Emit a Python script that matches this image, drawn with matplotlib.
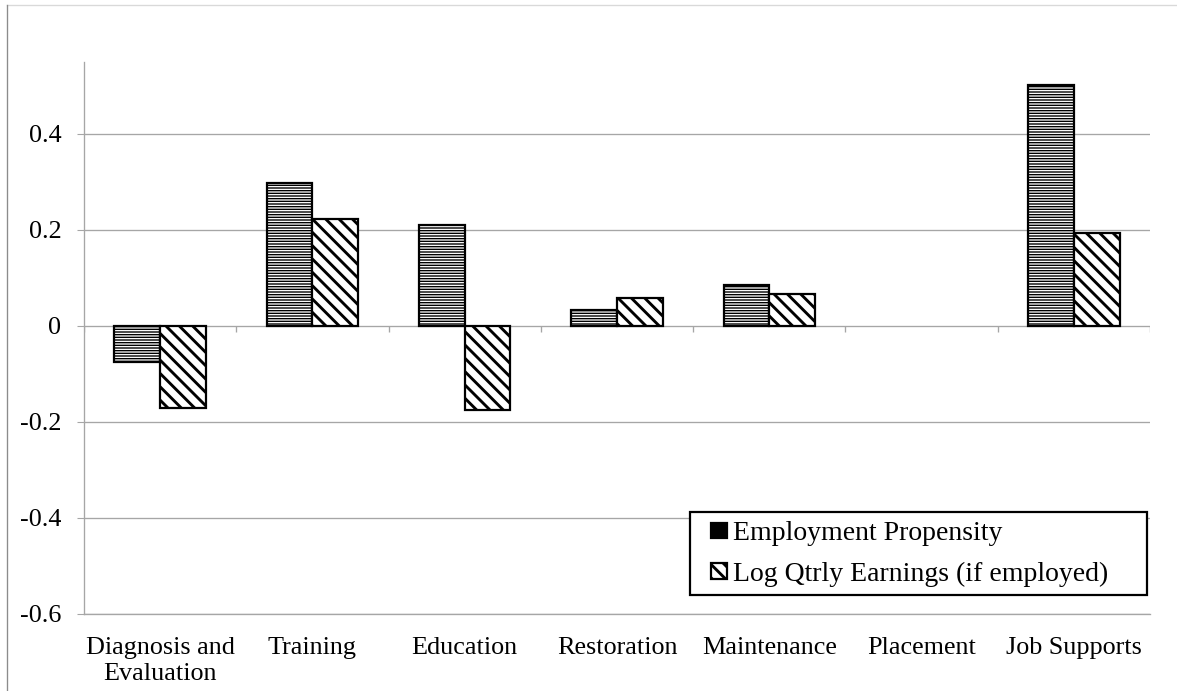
import matplotlib
matplotlib.use("Agg")
import matplotlib.pyplot as plt
from matplotlib.lines import Line2D
from matplotlib.patches import Rectangle
import numpy as np

categories = ["Diagnosis and\nEvaluation", "Training", "Education", "Restoration",
              "Maintenance", "Placement", "Job Supports"]
employment = [-0.074, 0.298, 0.210, 0.033, 0.086, 0.0, 0.502]
earnings = [-0.170, 0.223, -0.175, 0.058, 0.066, 0.0, 0.194]
series_names = ["Employment Propensity", "Log Qtrly Earnings (if employed)"]
yticks = [-0.6, -0.4, -0.2, 0, 0.2, 0.4]

DPI = 80
W, H = 1177, 691
GRID = "#a6a6a6"
plt.rcParams["font.family"] = ["Liberation Serif", "DejaVu Serif"]
plt.rcParams["font.size"] = 23.5

fig = plt.figure(figsize=(W / DPI, H / DPI), dpi=DPI)
ax = fig.add_axes([84 / W, 1 - 614 / H, (1150 - 84) / W, (614 - 62) / H])

x = np.arange(len(categories))
bw = 0.30

plt.rcParams["hatch.linewidth"] = 1.25
b1 = ax.bar(x - bw / 2, employment, bw, color="white", edgecolor="black",
            linewidth=2.0, hatch="-----", label=series_names[0], zorder=3)
plt.rcParams["hatch.linewidth"] = 2.6
b2 = ax.bar(x + bw / 2, earnings, bw, color="white", edgecolor="black",
            linewidth=2.0, hatch="\\\\", label=series_names[1], zorder=3)
for bars, vals, hlw in ((b1, employment, 1.25), (b2, earnings, 2.6)):
    for p, v in zip(bars, vals):
        if hasattr(p, "set_hatch_linewidth"):
            p.set_hatch_linewidth(hlw)
        if v == 0:
            # empty bars leave no outline on the axis
            p.set_linewidth(0)

ax.set_xlim(-0.5, len(categories) - 0.5)
ax.set_ylim(-0.6, 0.55)
ax.set_yticks(yticks)
ax.set_yticklabels(["0" if v == 0 else f"{v:.1f}" for v in yticks])
ax.yaxis.grid(True, color=GRID, linewidth=1.2, zorder=0)
ax.set_axisbelow(True)

ax.set_xticks(x)
ax.set_xticklabels(categories, linespacing=1.2)
ax.tick_params(axis="x", length=0, pad=21)
ax.tick_params(axis="y", length=6.3, width=1.0, color=GRID, pad=14)

for s in ["top", "right"]:
    ax.spines[s].set_visible(False)
for s in ["left", "bottom"]:
    ax.spines[s].set_color(GRID)
    ax.spines[s].set_linewidth(1.2)

# category boundary ticks hanging below the zero line
bounds = np.arange(len(categories) + 1) - 0.5
ax.vlines(bounds, -0.013, 0, color=GRID, linewidth=1.2, zorder=2)

# legend box with its own frame
ax.add_patch(Rectangle((690 / W, 1 - 595 / H), (1147 - 690) / W, (595 - 512) / H,
                       transform=fig.transFigure, facecolor="white",
                       edgecolor="black", linewidth=2.0, zorder=4, clip_on=False))
leg = ax.legend(loc="center left", bbox_to_anchor=(711 / W, 1 - 554 / H),
                bbox_transform=fig.transFigure, frameon=False,
                handlelength=0.58, handleheight=0.5,
                handletextpad=0.22, borderpad=0, labelspacing=0.55,
                borderaxespad=0, fontsize=25)
leg.set_zorder(5)

# outer chart-area border (top and left edges)
fig.add_artist(Line2D([7 / W, 1], [1 - 5 / H, 1 - 5 / H], transform=fig.transFigure,
                      color="#d9d9d9", linewidth=1.2))
fig.add_artist(Line2D([7 / W, 7 / W], [0, 1 - 5 / H], transform=fig.transFigure,
                      color="#8c8c8c", linewidth=1.2))

fig.savefig("out.png", dpi=DPI)
